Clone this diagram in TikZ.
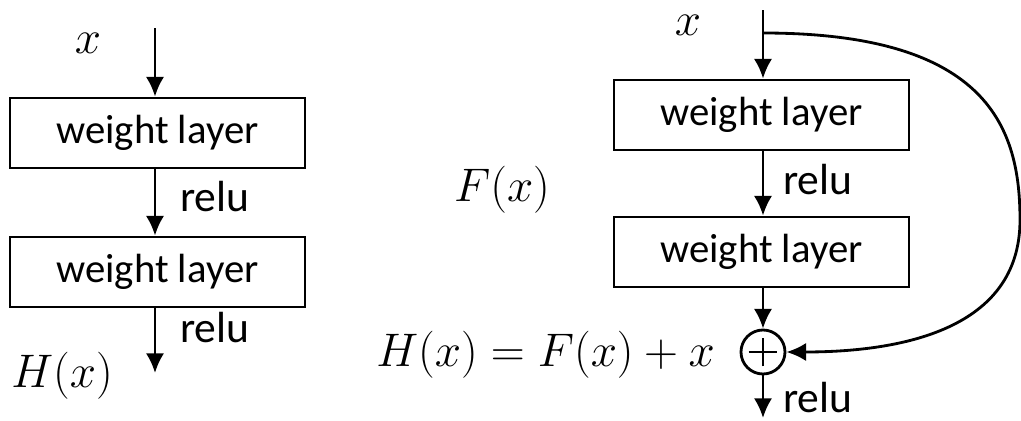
\RequirePackage{fix-cm}
\documentclass[tikz,border=0pt]{standalone}
\usepackage{fontspec}
\setmainfont{Carlito}
\usetikzlibrary{arrows.meta,positioning}

\tikzset{
  layerbox/.style={draw, line width=2pt, minimum width=7.375cm, minimum height=1.75cm,
    inner sep=0pt, font=\fontsize{29}{32}\selectfont},
  flow/.style={line width=2pt, -{Latex[length=14pt,width=13pt]}},
  mathlbl/.style={font=\fontsize{33.5}{38}\selectfont, inner sep=0pt},
  relulbl/.style={font=\fontsize{31}{34}\selectfont, anchor=west, inner sep=0pt},
}

\begin{document}
\begin{tikzpicture}[x=0.025cm, y=-0.025cm]

\useasboundingbox (0,0) rectangle (1021,421);

% ===== Plain block =====

\node[layerbox] (w1) at (157.5,133) {weight layer};
\node[layerbox] (w2) at (157.5,272) {weight layer};
\coordinate (inL) at (155,28);
\coordinate (outL) at (155,373);

\node[mathlbl] (xL) at (88,43) {$x$};
\node[relulbl] (r1) at (180,197) {relu};
\node[relulbl] (r2) at (180,328) {relu};
\node[mathlbl] (HL) at (62,376) {$H(x)$};

\draw[flow] (inL) -- (w1.north -| inL);
\draw[flow] (w1.south -| inL) -- (w2.north -| inL);
\draw[flow] (w2.south -| inL) -- (outL);

% ===== Residual block =====

\node[layerbox] (w3) at (761.5,115) {weight layer};
\node[layerbox] (w4) at (761.5,252) {weight layer};
\node[draw, circle, line width=2pt, minimum size=1.1cm, inner sep=0pt] (sum) at (763,352) {};
\draw[line width=1.6pt] ([xshift=-0.36cm]sum.center) -- ([xshift=0.36cm]sum.center);
\draw[line width=1.6pt] ([yshift=-0.36cm]sum.center) -- ([yshift=0.36cm]sum.center);
\coordinate (inR) at (763,10);
\coordinate (split) at (763,33);
\coordinate (outR) at (763,418);

\node[mathlbl] (xR) at (688,25) {$x$};
\node[relulbl] (r3) at (783,180) {relu};
\node[relulbl] (r4) at (783,398) {relu};
\node[mathlbl] (F) at (502,190) {$F(x)$};
\node[mathlbl, anchor=east] (Hsum) at (715,355) {$H(x) = F(x) + x$};

\draw[flow] (inR) -- (w3.north -| inR);
\draw[flow] (w3.south -| inR) -- (w4.north -| inR);
\draw[flow] (w4.south -| inR) -- (sum.north);
\draw[flow] (sum.south) -- (outR);

% ===== Shortcut =====

\draw[flow] (split) .. controls (990,33) and (1020,130) .. (1020,220)
  .. controls (1020,330) and (900,352) .. (sum.east);

\end{tikzpicture}
\end{document}
